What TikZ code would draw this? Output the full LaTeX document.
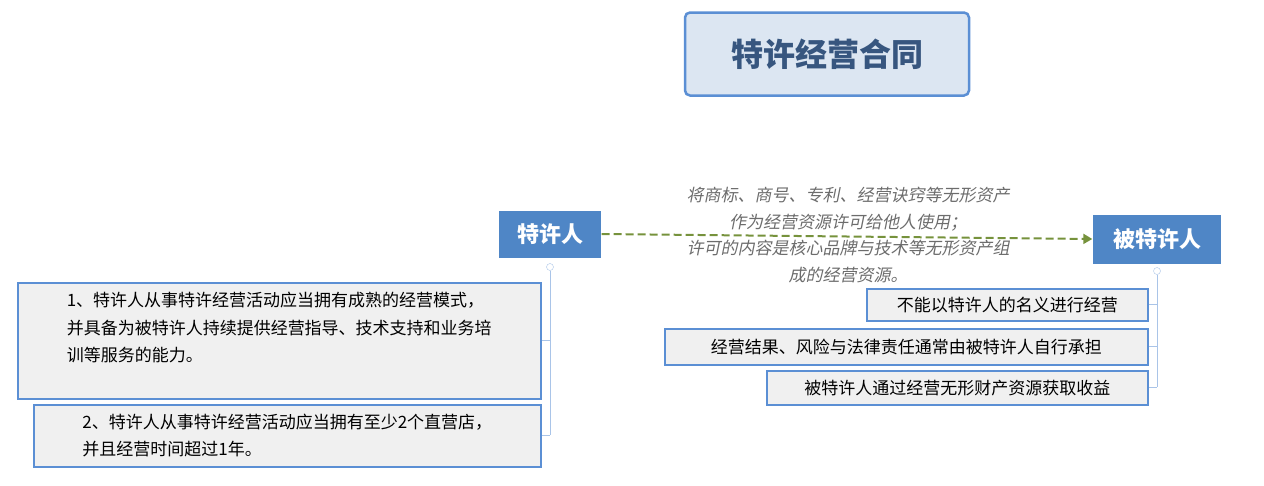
\documentclass[tikz,border=0pt]{standalone}
\usepackage{fontspec}
\setmainfont{Noto Sans CJK SC}
\newfontfamily\slantcjk[FakeSlant=0.2]{Noto Sans CJK SC}
\usetikzlibrary{arrows.meta}
\definecolor{bord}{HTML}{5B8FD4}
\definecolor{fillb}{HTML}{4F86C6}
\definecolor{lite}{HTML}{DCE6F2}
\definecolor{grn}{HTML}{76923C}
\definecolor{conn}{HTML}{A9C4E8}
\begin{document}
\begin{tikzpicture}[x=1pt,y=-1pt,
  mainbox/.style={draw=white,fill=fillb,text=white,font=\bfseries\fontsize{22}{26}\selectfont,inner sep=0pt},
  leaf/.style={draw=bord,line width=1.5pt,fill=gray!12,font=\fontsize{17}{27.5}\selectfont,align=left,inner sep=0pt},
  cn/.style={conn,line width=0.8pt},
  tog/.style={circle,draw=conn,fill=white,inner sep=0pt,minimum size=7pt}]
\useasboundingbox (0,0) rectangle (1264,485);
\node[draw=bord,line width=2.5pt,fill=lite,rounded corners=5pt,minimum width=284pt,minimum height=83pt,text=bord!60!black,font=\bfseries\fontsize{32}{36}\selectfont] (title) at (827,54) {特许经营合同};
\node[mainbox,minimum width=103pt,minimum height=48pt] (a) at (550,234) {特许人};
\node[mainbox,minimum width=129pt,minimum height=50pt] (b) at (1157,239) {被特许人};
\draw[grn,line width=2pt,dash pattern=on 8pt off 4pt,-{Triangle[length=9pt,width=10pt]}] (a.east) -- (b.west);
\node[text=gray!85!black,font=\slantcjk\fontsize{17}{26.5}\selectfont,align=center] (mid) at (848,235) {将商标、商号、专利、经营诀窍等无形资产\\作为经营资源许可给他人使用；\\许可的内容是核心品牌与技术等无形资产组\\成的经营资源。};
\node[tog] (ta) at (550,267) {};
\node[tog] (tb) at (1157,271) {};
\node[leaf,minimum width=523pt,minimum height=116pt,anchor=north west,inner xsep=12pt] (l1) at (17,282) {1、特许人从事特许经营活动应当拥有成熟的经营模式，\\并具备为被特许人持续提供经营指导、技术支持和业务培\\训等服务的能力。\\ \mbox{}};
\node[leaf,minimum width=507pt,minimum height=62pt,anchor=north west,inner xsep=12pt] (l2) at (33,404) {2、特许人从事特许经营活动应当拥有至少2个直营店，\\并且经营时间超过1年。};
\node[leaf,minimum width=281pt,minimum height=32pt,anchor=north west,align=center] (r1) at (866,288) {不能以特许人的名义进行经营};
\node[leaf,minimum width=483pt,minimum height=36pt,anchor=north west,align=center] (r2) at (664,328) {经营结果、风险与法律责任通常由被特许人自行承担};
\node[leaf,minimum width=381pt,minimum height=34pt,anchor=north west,align=center] (r3) at (766,370) {被特许人通过经营无形财产资源获取收益};
\draw[cn] (ta.south) -- (550,435);
\draw[cn] (550,340) -- (l1.east |- 0,340);
\draw[cn] (550,435) -- (l2.east |- 0,435);
\draw[cn] (tb.south) -- (1157,387);
\draw[cn] (1157,304) -- (r1.east |- 0,304);
\draw[cn] (1157,346) -- (r2.east |- 0,346);
\draw[cn] (1157,387) -- (r3.east |- 0,387);
\end{tikzpicture}
\end{document}
